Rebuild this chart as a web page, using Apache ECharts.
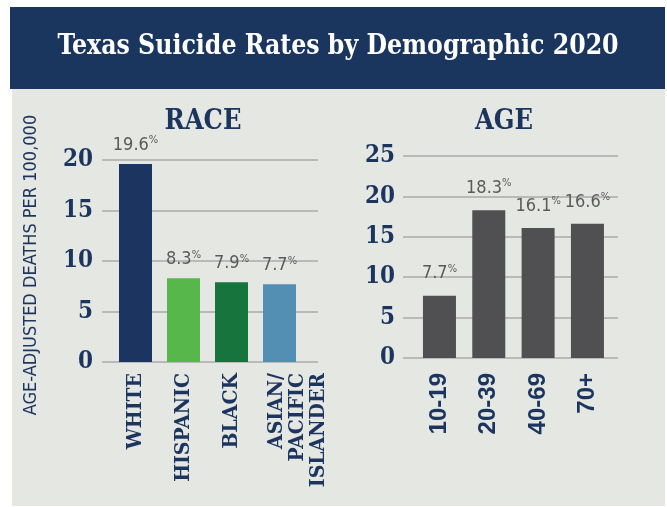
<!DOCTYPE html>
<html>
<head>
<meta charset="utf-8">
<script src="https://cdn.jsdelivr.net/npm/echarts@6/dist/echarts.min.js"></script>
<style>
  html, body { margin: 0; padding: 0; background: #fff; }
  #chart { width: 667px; height: 507px; }
</style>
</head>
<body>
<div id="chart"></div>
<script>
// data
var raceNames  = ['WHITE', 'HISPANIC', 'BLACK', 'ASIAN/\nPACIFIC\nISLANDER'];
var raceValues = [19.6, 8.3, 7.9, 7.7];
var raceColors = ['#1b3560', '#57b74a', '#17743c', '#538fb2'];

var ageNames  = ['10-19', '20-39', '40-69', '70+'];
var ageValues = [7.7, 18.3, 16.1, 16.6];

var NAVY = '#1b355f';
var GRID_LINE = '#a8aaaa';
var NARROW = '"Liberation Sans Narrow", "DejaVu Sans Condensed", sans-serif';
var SLAB = '"DejaVu Serif Condensed", "DejaVu Serif", serif';

// value labels like 19.6 with a small raised %
function valueLabel(dist) {
    return {
        show: true,
        position: 'top',
        distance: dist,
        formatter: function (p) { return '{v|' + Number(p.value).toFixed(1) + '}{p|%}'; },
        rich: {
            v: { fontFamily: NARROW, fontSize: 18, color: '#5a5a5a', lineHeight: 20 },
            p: { fontFamily: NARROW, fontSize: 11, color: '#5a5a5a', verticalAlign: 'top', lineHeight: 20, padding: [0, 0, 7, 0] }
        }
    };
}

var raceData = raceValues.map(function (v, i) {
    return { value: v, itemStyle: { color: raceColors[i] } };
});

var chart = echarts.init(document.getElementById('chart'));

var option = {
    backgroundColor: '#ffffff',
    animation: false,
    graphic: [
        { type: 'rect', z: -10, shape: { x: 10, y: 7, width: 655, height: 82 }, style: { fill: '#1a355e' } },
        { type: 'rect', z: -10, shape: { x: 12, y: 89, width: 653, height: 417 }, style: { fill: '#e5e7e3' } },
        {
            type: 'text', x: 338, y: 47, scaleX: 0.94,
            style: {
                text: 'Texas Suicide Rates by Demographic 2020',
                fill: '#ffffff', font: 'bold 28px ' + SLAB,
                align: 'center', verticalAlign: 'middle'
            }
        }
    ],
    title: [
        { text: 'RACE', left: 203, top: 108, textAlign: 'center', padding: 0,
          textStyle: { fontFamily: SLAB, fontWeight: 'bold', fontSize: 27, color: NAVY } },
        { text: 'AGE', left: 504, top: 108, textAlign: 'center', padding: 0,
          textStyle: { fontFamily: SLAB, fontWeight: 'bold', fontSize: 27, color: NAVY } }
    ],
    grid: [
        { left: 102, right: 349, top: 160, bottom: 145 },   // race gridlines
        { left: 111.5, width: 192, top: 160, bottom: 145 }, // race bars
        { left: 403, right: 49, top: 156, bottom: 149 },    // age gridlines
        { left: 414.8, width: 197.3, top: 156, bottom: 149 } // age bars
    ],
    xAxis: [
        { gridIndex: 0, type: 'value', min: 0, max: 1, show: false },
        {
            gridIndex: 1, type: 'category', data: raceNames,
            axisLine: { show: false }, axisTick: { show: false },
            axisLabel: {
                interval: 0, rotate: 90, margin: 11,
                fontFamily: SLAB, fontWeight: 'bold', fontSize: 21, lineHeight: 21, color: NAVY,
                // the 3-line label starts on the bar and runs to the right
                formatter: function (v) {
                    return v.indexOf('\n') >= 0 ? '{s|}\n' + v : v;
                },
                rich: { s: { lineHeight: 37, fontSize: 1 } }
            }
        },
        { gridIndex: 2, type: 'value', min: 0, max: 1, show: false },
        {
            gridIndex: 3, type: 'category', data: ageNames,
            axisLine: { show: false }, axisTick: { show: false },
            axisLabel: {
                interval: 0, rotate: 90, margin: 15,
                fontFamily: 'Liberation Sans, Arial, sans-serif', fontWeight: 'bold', fontSize: 24, color: NAVY
            }
        }
    ],
    yAxis: [
        {
            gridIndex: 0, type: 'value', min: 0, max: 20, interval: 5,
            axisLine: { show: false }, axisTick: { show: false },
            splitLine: { lineStyle: { color: GRID_LINE, width: 1.5 } },
            axisLabel: { margin: 9, fontFamily: SLAB, fontWeight: 'bold', fontSize: 24, color: NAVY },
            name: 'AGE-ADJUSTED DEATHS PER 100,000',
            nameLocation: 'middle', nameRotate: 90, nameGap: 62,
            nameTextStyle: { fontFamily: NARROW, fontSize: 18, color: NAVY, padding: [0, 8, 0, 0] }
        },
        { gridIndex: 1, type: 'value', min: 0, max: 20, show: false },
        {
            gridIndex: 2, type: 'value', min: 0, max: 25, interval: 5,
            axisLine: { show: false }, axisTick: { show: false },
            splitLine: { lineStyle: { color: GRID_LINE, width: 1.5 } },
            axisLabel: { margin: 8, fontFamily: SLAB, fontWeight: 'bold', fontSize: 24, color: NAVY }
        },
        { gridIndex: 3, type: 'value', min: 0, max: 25, show: false }
    ],
    series: [
        {
            type: 'bar', xAxisIndex: 1, yAxisIndex: 1,
            barWidth: 33, data: raceData, label: valueLabel(9)
        },
        {
            type: 'bar', xAxisIndex: 3, yAxisIndex: 3,
            barWidth: 33, data: ageValues, itemStyle: { color: '#505052' },
            label: valueLabel(12)
        }
    ]
};

chart.setOption(option);
</script>
</body>
</html>
